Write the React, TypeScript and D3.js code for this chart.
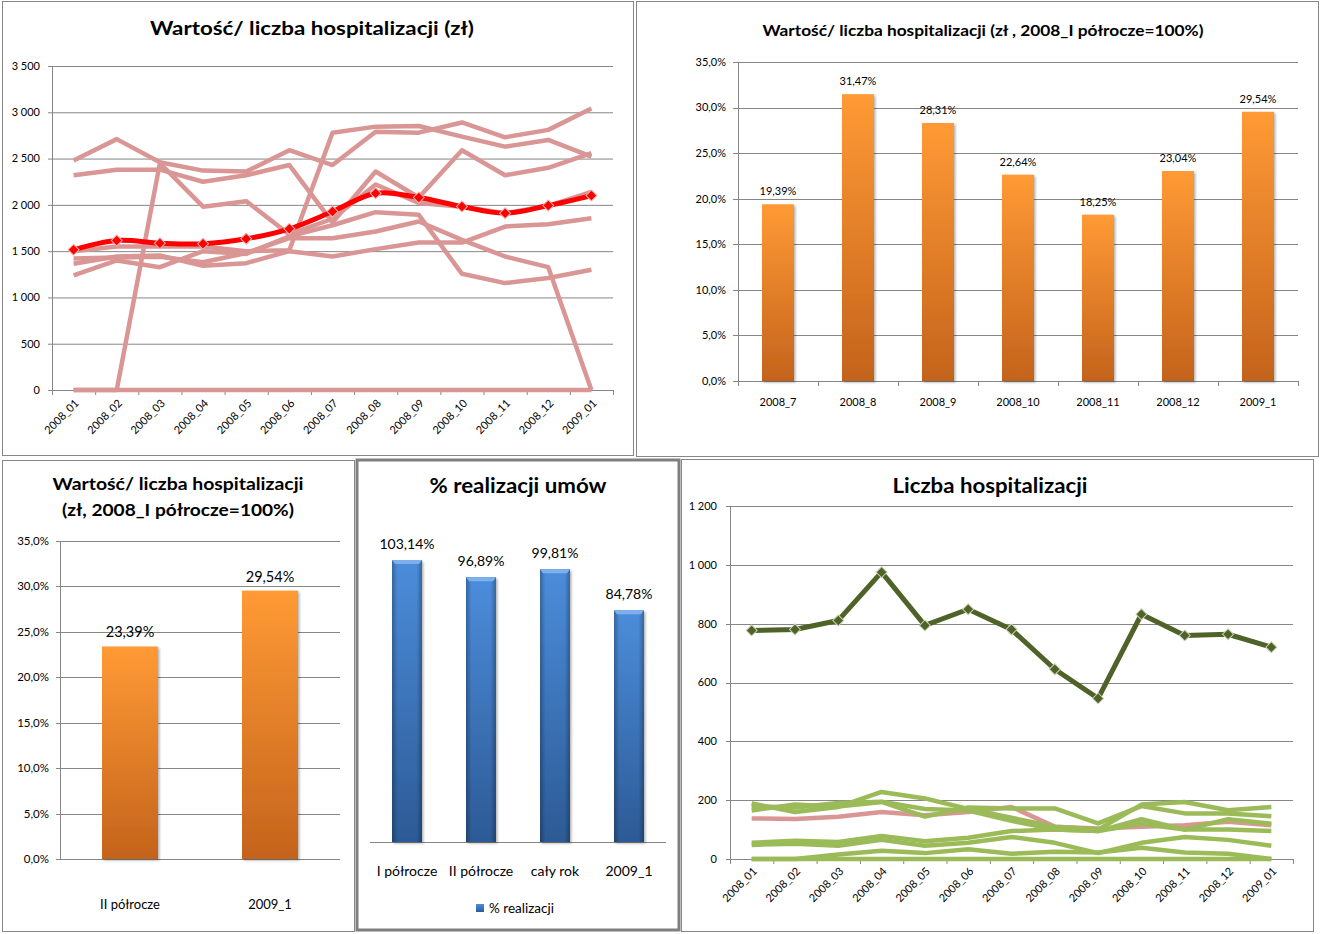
import React from 'react';
import * as d3 from 'd3';

// ---------- DATA ----------
const months = ['2008_01', '2008_02', '2008_03', '2008_04', '2008_05', '2008_06', '2008_07', '2008_08', '2008_09', '2008_10', '2008_11', '2008_12', '2009_01'];

// Wartość / liczba hospitalizacji (zł) – individual units (pink) and average (red)
const valueAvg = [1514, 1615, 1586, 1579, 1633, 1741, 1928, 2126, 2079, 1982, 1910, 1993, 2100];
const valueUnitA = [2480, 2710, 2460, 2370, 2360, 2590, 2430, 2790, 2780, 2890, 2730, 2810, 3040];
const valueUnitB = [2320, 2380, 2380, 2250, 2320, 2430, 1810, 2360, 2080, 2590, 2320, 2400, 2560];
const valueUnitC = [0, 0, 2450, 1980, 2040, 1680, 1850, 2220, 2020, 1980, 1910, 1990, 2140];
const valueUnitD = [1500, 1550, 1550, 1550, 1500, 1510, 2780, 2845, 2852, 2737, 2629, 2701, 2521];
const valueUnitE = [1363, 1442, 1453, 1342, 1370, 1500, 1442, 1522, 1593, 1593, 1766, 1791, 1856];
const valueUnitF = [1237, 1399, 1327, 1500, 1470, 1660, 1780, 1921, 1892, 1255, 1155, 1209, 1299];
const valueUnitG = [1420, 1430, 1440, 1380, 1480, 1640, 1640, 1712, 1820, 1622, 1442, 1327, 0];
const valueUnitH = [0, 0, 0, 0, 0, 0, 0, 0, 0, 0, 0, 0, 0];
const valueUnits = [valueUnitA, valueUnitB, valueUnitC, valueUnitD, valueUnitE, valueUnitF, valueUnitG, valueUnitH];

// Wartość / liczba hospitalizacji (zł, 2008_I półrocze=100%) – monthly
const halfMonths = ['2008_7', '2008_8', '2008_9', '2008_10', '2008_11', '2008_12', '2009_1'];
const halfValues = [0.1939, 0.3147, 0.2831, 0.2264, 0.1825, 0.2304, 0.2954];

// Same index – by period
const periodCats = ['II półrocze', '2009_1'];
const periodValues = [0.2339, 0.2954];

// % realizacji umów
const realCats = ['I półrocze', 'II półrocze', 'cały rok', '2009_1'];
const realValues = [1.0314, 0.9689, 0.9981, 0.8478];

// Liczba hospitalizacji
const countTotal = [777, 780, 811, 975, 794, 849, 780, 645, 546, 832, 760, 764, 720];
const countPink = [138, 136, 144, 160, 149, 160, 177, 110, 104, 110, 115, 127, 115];
const countUnitA = [189, 160, 177, 228, 206, 170, 140, 110, 100, 185, 194, 166, 177];
const countUnitB = [165, 185, 178, 194, 144, 175, 172, 172, 121, 180, 155, 155, 145];
const countUnitC = [180, 175, 190, 195, 170, 165, 130, 100, 95, 135, 100, 135, 120];
const countUnitD = [55, 62, 58, 78, 60, 72, 95, 100, 95, 120, 100, 100, 95];
const countUnitE = [48, 52, 45, 65, 45, 55, 75, 55, 20, 55, 75, 65, 45];
const countUnitF = [0, 0, 15, 28, 20, 33, 18, 25, 22, 38, 22, 18, 0];
const countUnitG = [0, 0, 0, 0, 0, 0, 0, 0, 0, 0, 0, 0, 0];
const countUnits = [countUnitA, countUnitB, countUnitC, countUnitD, countUnitE, countUnitF, countUnitG];

// ---------- STYLE ----------
const FONT = "Lato, 'Open Sans', 'DejaVu Sans', sans-serif";
const GRID = '#868686';
const PINK = '#D99694';
const RED = '#FF0000';
const DKGREEN = '#4F6228';
const LTGREEN = '#9BBB59';

const loc = d3.formatLocale({ decimal: ',', thousands: ' ', grouping: [3], currency: ['', ''] });
const fmtNum = loc.format(',.0f');
const fmtPct1 = loc.format('.1%');
const fmtPct2 = loc.format('.2%');

const diamond = d3.symbol().type(d3.symbolSquare).size(60)() as string;

function Title({ x, y, text, size, width }: { x: number; y: number; text: string; size: number; width: number }) {
  return (
    <text x={x} y={y} textAnchor="middle" fontFamily={FONT} fontWeight="bold" fontSize={size}
      textLength={width} lengthAdjust="spacingAndGlyphs" fill="#000">{text}</text>
  );
}

export default function App() {
  // ---- Top-left: line chart of values ----
  const tlX = d3.scaleBand<string>().domain(months).range([52, 613]);
  const tlY = d3.scaleLinear().domain([0, 3500]).range([390, 66]);
  const tlC = (i: number) => (tlX(months[i]) as number) + tlX.bandwidth() / 2;
  const tlLine = d3.line<number>().x((_, i) => tlC(i)).y((v) => tlY(v));
  const tlSmooth = d3.line<number>().x((_, i) => tlC(i)).y((v) => tlY(v)).curve(d3.curveCatmullRom.alpha(0.5));

  // ---- Top-right: monthly index bars ----
  const trX = d3.scaleBand<string>().domain(halfMonths).range([738, 1298]).paddingInner(0.6).paddingOuter(0.3);
  const trY = d3.scaleLinear().domain([0, 0.35]).range([381, 62]);
  const trStep = trX.step();

  // ---- Bottom-left: period index bars ----
  const blX = d3.scaleBand<string>().domain(periodCats).range([60, 340]).paddingInner(0.6).paddingOuter(0.3);
  const blY = d3.scaleLinear().domain([0, 0.35]).range([859, 541]);

  // ---- Bottom-middle: % realizacji ----
  const bmX = d3.scaleBand<string>().domain(realCats).range([370, 666]).paddingInner(0.595).paddingOuter(0.2975);
  const bmY = d3.scaleLinear().domain([0, 1.2]).range([842, 514]);

  // ---- Bottom-right: counts ----
  const brX = d3.scaleBand<string>().domain(months).range([730, 1293]);
  const brY = d3.scaleLinear().domain([0, 1200]).range([859, 506]);
  const brC = (i: number) => (brX(months[i]) as number) + brX.bandwidth() / 2;
  const brLine = d3.line<number>().x((_, i) => brC(i)).y((v) => brY(v));

  return (
    <svg width={1321} height={934} style={{ position: 'absolute', left: 0, top: 0, background: '#fff' }}
      fontFamily={FONT}>
      <defs>
        <linearGradient id="orangeGrad" x1="0" y1="0" x2="0" y2="1">
          <stop offset="0%" stopColor="#FF9A35" />
          <stop offset="100%" stopColor="#C4631C" />
        </linearGradient>
        <linearGradient id="blueGrad" x1="0" y1="0" x2="0" y2="1">
          <stop offset="0%" stopColor="#4C8DDB" />
          <stop offset="100%" stopColor="#2C5A95" />
        </linearGradient>
        <linearGradient id="blueEdge" x1="0" y1="0" x2="1" y2="0">
          <stop offset="0%" stopColor="#000" stopOpacity="0.28" />
          <stop offset="18%" stopColor="#000" stopOpacity="0" />
          <stop offset="82%" stopColor="#000" stopOpacity="0" />
          <stop offset="100%" stopColor="#000" stopOpacity="0.28" />
        </linearGradient>
        <filter id="shadow" x="-20%" y="-20%" width="150%" height="150%">
          <feDropShadow dx="1.5" dy="1.5" stdDeviation="1.2" floodColor="#000" floodOpacity="0.3" />
        </filter>
      </defs>

      {/* Panel borders */}
      <rect x={2.5} y={1.5} width={631} height={454} fill="#fff" stroke={GRID} />
      <rect x={636.5} y={1.5} width={682} height={455} fill="#fff" stroke={GRID} />
      <rect x={2.5} y={460.5} width={352} height={471} fill="#fff" stroke={GRID} />
      <rect x={681.5} y={459.5} width={632} height={472} fill="#fff" stroke={GRID} />
      <rect x={357} y={460} width={322} height={470} fill="#fff" stroke="#7F7F7F" strokeWidth={3} />

      {/* ===== Top-left chart ===== */}
      <Title x={312} y={35} text="Wartość/ liczba hospitalizacji (zł)" size={19} width={324} />
      {tlY.ticks(7).map((t) => (
        <g key={t}>
          <line x1={52} x2={613} y1={tlY(t) + 0.5} y2={tlY(t) + 0.5} stroke={GRID} />
          <line x1={48} x2={52} y1={tlY(t) + 0.5} y2={tlY(t) + 0.5} stroke={GRID} />
          <text x={40} y={tlY(t)} dy="0.35em" textAnchor="end" fontSize={11}>{fmtNum(t)}</text>
        </g>
      ))}
      <line x1={52.5} x2={52.5} y1={66} y2={390} stroke={GRID} />
      {months.map((m, i) => (
        <line key={m} x1={(tlX(m) as number) + 0.5} x2={(tlX(m) as number) + 0.5} y1={390} y2={395} stroke={GRID} />
      ))}
      <line x1={613.5} x2={613.5} y1={390} y2={395} stroke={GRID} />
      {months.map((m, i) => (
        <text key={m} transform={`translate(${tlC(i) + 6},${404}) rotate(-45)`} textAnchor="end" fontSize={11}>{m}</text>
      ))}
      {valueUnits.map((s, k) => (
        <path key={k} d={tlLine(s) as string} fill="none" stroke={PINK} strokeWidth={4.5} strokeLinejoin="round" />
      ))}
      <path d={tlSmooth(valueAvg) as string} fill="none" stroke={RED} strokeWidth={5} strokeLinejoin="round" />
      {valueAvg.map((v, i) => (
        <path key={i} d={diamond} transform={`translate(${tlC(i)},${tlY(v)}) rotate(45)`} fill={RED} stroke="#F7B0B0" strokeWidth={1} />
      ))}

      {/* ===== Top-right chart ===== */}
      <Title x={983} y={36} text="Wartość/ liczba hospitalizacji (zł , 2008_I półrocze=100%)" size={15.5} width={441} />
      {trY.ticks(7).map((t) => (
        <g key={t}>
          <line x1={738} x2={1298} y1={Math.round(trY(t)) + 0.5} y2={Math.round(trY(t)) + 0.5} stroke={GRID} />
          <line x1={733} x2={738} y1={Math.round(trY(t)) + 0.5} y2={Math.round(trY(t)) + 0.5} stroke={GRID} />
          <text x={726} y={trY(t)} dy="0.35em" textAnchor="end" fontSize={11}>{fmtPct1(t)}</text>
        </g>
      ))}
      <line x1={738.5} x2={738.5} y1={62} y2={381} stroke={GRID} />
      {d3.range(halfMonths.length + 1).map((i) => (
        <line key={i} x1={738.5 + i * trStep} x2={738.5 + i * trStep} y1={381} y2={386} stroke={GRID} />
      ))}
      {halfMonths.map((m, i) => (
        <g key={m}>
          <rect x={trX(m)} y={trY(halfValues[i])} width={trX.bandwidth()} height={trY(0) - trY(halfValues[i])}
            fill="url(#orangeGrad)" filter="url(#shadow)" />
          <text x={(trX(m) as number) + trX.bandwidth() / 2} y={trY(halfValues[i]) - 9} textAnchor="middle" fontSize={11}>{fmtPct2(halfValues[i])}</text>
          <text x={(trX(m) as number) + trX.bandwidth() / 2} y={406} textAnchor="middle" fontSize={11}>{m}</text>
        </g>
      ))}

      {/* ===== Bottom-left chart ===== */}
      <Title x={178} y={490} text="Wartość/ liczba hospitalizacji" size={17.5} width={251} />
      <Title x={178} y={516} text="(zł, 2008_I półrocze=100%)" size={17.5} width={232} />
      {blY.ticks(7).map((t) => (
        <g key={t}>
          <line x1={60} x2={340} y1={Math.round(blY(t)) + 0.5} y2={Math.round(blY(t)) + 0.5} stroke={GRID} />
          <line x1={56} x2={60} y1={Math.round(blY(t)) + 0.5} y2={Math.round(blY(t)) + 0.5} stroke={GRID} />
          <text x={49} y={blY(t)} dy="0.35em" textAnchor="end" fontSize={11.5}>{fmtPct1(t)}</text>
        </g>
      ))}
      <line x1={60.5} x2={60.5} y1={541} y2={859} stroke={GRID} />
      {periodCats.map((c, i) => (
        <g key={c}>
          <rect x={blX(c)} y={blY(periodValues[i])} width={blX.bandwidth()} height={blY(0) - blY(periodValues[i])}
            fill="url(#orangeGrad)" filter="url(#shadow)" />
          <text x={(blX(c) as number) + blX.bandwidth() / 2} y={blY(periodValues[i]) - 9} textAnchor="middle" fontSize={14.5}>{fmtPct2(periodValues[i])}</text>
          <text x={(blX(c) as number) + blX.bandwidth() / 2} y={909} textAnchor="middle" fontSize={13}>{c}</text>
        </g>
      ))}

      {/* ===== Bottom-middle chart ===== */}
      <Title x={518} y={493} text="% realizacji umów" size={20} width={177} />
      <line x1={370} x2={666} y1={842.5} y2={842.5} stroke={GRID} />
      {realCats.map((c, i) => {
        const x0 = bmX(c) as number;
        const w = bmX.bandwidth();
        const y0 = bmY(realValues[i]);
        const h = bmY(0) - y0;
        return (
          <g key={c}>
            <rect x={x0} y={y0} width={w} height={h} fill="url(#blueGrad)" filter="url(#shadow)" />
            <rect x={x0} y={y0} width={w} height={h} fill="url(#blueEdge)" />
            <polygon points={`${x0},${y0} ${x0 + w},${y0} ${x0 + w - 3},${y0 + 4} ${x0 + 3},${y0 + 4}`} fill="#7DB0EC" />
            <text x={x0 + w / 2} y={y0 - 11} textAnchor="middle" fontSize={14}>{fmtPct2(realValues[i])}</text>
            <text x={x0 + w / 2} y={876} textAnchor="middle" fontSize={14}>{c}</text>
          </g>
        );
      })}
      <rect x={476} y={904} width={8} height={8} fill="url(#blueGrad)" />
      <text x={489} y={913} fontSize={13.5}>% realizacji</text>

      {/* ===== Bottom-right chart ===== */}
      <Title x={990} y={493} text="Liczba hospitalizacji" size={20} width={195} />
      {brY.ticks(6).map((t) => (
        <g key={t}>
          <line x1={730} x2={1293} y1={Math.round(brY(t)) + 0.5} y2={Math.round(brY(t)) + 0.5} stroke={GRID} />
          <line x1={726} x2={730} y1={Math.round(brY(t)) + 0.5} y2={Math.round(brY(t)) + 0.5} stroke={GRID} />
          <text x={717} y={brY(t)} dy="0.35em" textAnchor="end" fontSize={11}>{fmtNum(t)}</text>
        </g>
      ))}
      <line x1={730.5} x2={730.5} y1={506} y2={859} stroke={GRID} />
      {months.map((m) => (
        <line key={m} x1={(brX(m) as number) + 0.5} x2={(brX(m) as number) + 0.5} y1={859} y2={864} stroke={GRID} />
      ))}
      <line x1={1293.5} x2={1293.5} y1={859} y2={864} stroke={GRID} />
      {months.map((m, i) => (
        <text key={m} transform={`translate(${brC(i) + 6},${872}) rotate(-45)`} textAnchor="end" fontSize={11}>{m}</text>
      ))}
      <path d={brLine(countPink) as string} fill="none" stroke={PINK} strokeWidth={4.5} strokeLinejoin="round" />
      {countUnits.map((s, k) => (
        <path key={k} d={brLine(s) as string} fill="none" stroke={LTGREEN} strokeWidth={4.5} strokeLinejoin="round" />
      ))}
      <path d={brLine(countTotal) as string} fill="none" stroke={DKGREEN} strokeWidth={5} strokeLinejoin="round" />
      {countTotal.map((v, i) => (
        <path key={i} d={diamond} transform={`translate(${brC(i)},${brY(v)}) rotate(45)`} fill={DKGREEN} stroke="#C9D2B4" strokeWidth={1} />
      ))}
    </svg>
  );
}
